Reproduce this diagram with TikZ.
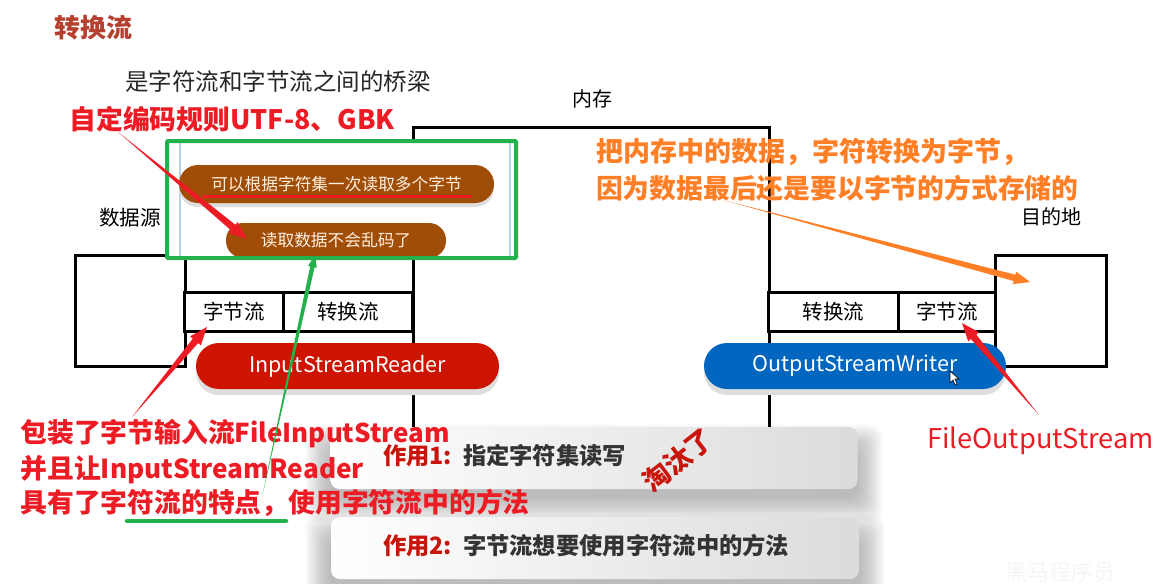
\documentclass[tikz,border=0pt]{standalone}
\usepackage{fontspec}
\setmainfont[Script=CJK,Language=Chinese Simplified]{Noto Sans CJK SC}
\usetikzlibrary{calc,shadows}
\definecolor{frameGreen}{HTML}{22B14C}
\definecolor{noteRed}{HTML}{ED1C24}
\definecolor{noteOrange}{HTML}{FF7F27}
\definecolor{pillBrown}{HTML}{A04D08}
\definecolor{pillRed}{HTML}{CC1400}
\definecolor{pillBlue}{HTML}{0066BF}
\definecolor{cardRed}{HTML}{C8160C}
\definecolor{titleRed}{HTML}{B5402F}
\definecolor{paleBlue}{HTML}{B5D0F2}
\newcommand{\fs}[1]      {\fontsize{#1}{#1}\selectfont}
\newcommand{\taperarrow}[5]{%
  \coordinate (hb) at ($(#3)!#4!(#2)$);
  \fill[#1] (#2) -- ($(hb)!#5*0.5!90:(#3)$) -- ($(hb)!#5!90:(#3)$) -- (#3)
    -- ($(hb)!#5!-90:(#3)$) -- ($(hb)!#5*0.5!-90:(#3)$) -- cycle;}
\tikzset{
  txt/.style={inner sep=0pt,outer sep=0pt},
  boxline/.style={draw=black,line width=3pt,inner sep=0pt,outer sep=0pt},
  cell/.style={boxline,minimum height=39pt,font=\fs{20.5}},
  pill/.style={inner sep=0pt,outer sep=0pt,minimum height=46pt,rounded corners=23pt,text=white},
  shadowed/.style={drop shadow={shadow xshift=0pt,shadow yshift=-#1,fill=black!13,opacity=1}},
  bigpill/.style={pill,shadowed=6pt,font=\fs{21.5}},
  brownpill/.style={pill,fill=pillBrown,text=orange!12,font=\fs{16.7}},
  card/.style={inner sep=0pt,outer sep=0pt,minimum width=527pt,minimum height=62pt,rounded corners=9pt,
    left color=white,right color=black!14},
  cardtxt/.style={txt,anchor=west,font=\bfseries\fs{23.3},text=black!80},
  rednote/.style={txt,anchor=west,font=\bfseries\fs{26.8},text=noteRed}
}
\begin{document}
\begin{tikzpicture}[x=1pt,y=-1pt]
   \useasboundingbox (0,0) rectangle (1163,584);
   \node[txt,font=\bfseries\fs{26},text=titleRed] (title) at (93,28) {转换流};
   \node[txt,font=\fs{23.5},text=black!85] (bridge) at (278,82) {是字符流和字节流之间的桥梁};
   \node[txt,font=\fs{20}] (memlabel) at (592,99) {内存};
   \node[txt,font=\fs{20.6}] (srclabel) at (130,218) {数据源};
   \node[txt,font=\fs{20}] (dstlabel) at (1051,217) {目的地};
   % memory and the two outer boxes
   \node[boxline,minimum width=356pt,minimum height=323pt] (memory) at (591,288.5) {};
   \node[boxline,minimum width=110pt,minimum height=111pt] (source) at (130,310.5) {};
   \node[boxline,minimum width=111pt,minimum height=111pt] (target) at (1051,310.5) {};
   \node[cell,fill=white,minimum width=99pt] (inbyte) at (234,311.5) {字节流};
   \node[cell,fill=white,minimum width=129pt] (inconv) at (348,311.5) {转换流};
   \node[cell,fill=white,minimum width=131pt] (outconv) at (833.5,311.5) {转换流};
   \node[cell,fill=white,minimum width=97pt] (outbyte) at (947,311.5) {字节流};
   \node[bigpill,fill=pillRed,minimum width=303pt] (reader) at (347.5,366) {\raisebox{-2pt}{InputStreamReader}};
   \node[bigpill,fill=pillBlue,minimum width=302pt] (writer) at (855,366) {\raisebox{-2pt}{OutputStreamWriter}};
   % cursor
   \filldraw[draw=black,fill=white,line width=0.6pt] (950,371) -- (950,383) -- (953,380) -- (955,385)
     -- (957,384) -- (955,379) -- (959,379) -- cycle;
   % green frame with its two pills
   \node[draw=none,fill=white,minimum width=349pt,minimum height=117pt,inner sep=0pt] (panel) at (341.5,199.5) {};
   \draw[paleBlue,line width=1.5pt] (180,143) -- (180,256);
   \draw[paleBlue,line width=1.5pt] (510,143) -- (510,256);
   \node[brownpill,shadowed=4pt,minimum width=315pt,minimum height=38pt,rounded corners=19pt] (multi) at (336.5,184) {\raisebox{1pt}{可以根据字符集一次读取多个字节}};
   \node[brownpill,minimum width=220pt,minimum height=35pt,rounded corners=17pt] (nogarble) at (336,240.5) {读取数据不会乱码了};
   \draw[noteRed,line width=3pt] (203,196) -- (472,196);
   \node[draw=frameGreen,line width=4pt,rounded corners=1pt,minimum width=349pt,minimum height=117pt,inner sep=0pt] (frame) at (341.5,199.5) {};
   % cards
   \foreach \s in {1,...,26} {
     \fill[black,opacity=0.012,rounded corners=12pt] (331-\s,450-\s) rectangle (857+\s,497+\s);
     \fill[black,opacity=0.012,rounded corners=12pt] (331-\s,540-\s) rectangle (859+\s,587+\s);
   }
   \node[card] (cardone) at (594,458) {};
   \node[card,minimum width=528pt] (cardtwo) at (595,548) {};
   \node[cardtxt,text=cardRed] (useone) at (383,456) {作用1:};
   \node[cardtxt] (useonetxt) at (463,456) {指定字符集读写};
   \node[cardtxt,text=cardRed] (usetwo) at (383,546) {作用2:};
   \node[cardtxt] (usetwotxt) at (463,546) {字节流想要使用字符流中的方法};
   \node[txt,font=\bfseries\fs{27},text=cardRed,rotate=38] (obsolete) at (678,460) {淘汰了};
   % notes
   \node[rednote] (encoding) at (69.5,119) {自定编码规则UTF-8、GBK};
   \node[rednote] (wrapone) at (20.5,434) {包装了字节输入流{\fs{25.9}FileInputStream}};
   \node[rednote] (wraptwo) at (20.5,470) {并且让{\fs{26.2}InputStreamReader}};
   \node[rednote] (wrapthree) at (20.5,503) {具有了字符流的特点，使用字符流中的方法};
   \node[rednote,font=\bfseries\fs{27},text=noteOrange] (orangeone) at (596,152) {把内存中的数据，字符转换为字节，};
   \node[rednote,font=\bfseries\fs{26.8},text=noteOrange] (orangetwo) at (596,188) {因为数据最后还是要以字节的方式存储的};
   \node[txt,font=\fs{27.2},text=noteRed] (fileout) at (1040.5,441) {FileOutputStream};
   \node[txt,font=\fs{22},text=black!4] (mark) at (1060,572) {黑马程序员};
   % arrows
   \coordinate (encodetail) at (118,132);
   \coordinate (encodehead) at (247,239);
   \coordinate (wraptail) at (132,417);
   \coordinate (wraphead) at (207,327);
   \coordinate (greentail) at (262,497);
   \coordinate (greenhead) at (315,255);
   \coordinate (orangetail) at (723,200);
   \coordinate (orangehead) at (1030,282);
   \coordinate (filetail) at (1039,415);
   \coordinate (filehead) at (962,323);
   \coordinate (lineleft) at (127,521);
   \coordinate (lineright) at (286,521);
   \taperarrow{noteRed}{encodetail}{encodehead}{18pt}{7pt}
   \taperarrow{noteRed}{wraptail}{wraphead}{18pt}{7pt}
   \taperarrow{frameGreen}{greentail}{greenhead}{12pt}{4.5pt}
   \taperarrow{noteOrange}{orangetail}{orangehead}{16pt}{6.5pt}
   \taperarrow{noteRed}{filetail}{filehead}{18pt}{7pt}
   \draw[frameGreen,line width=4.5pt,line cap=round] (lineleft) -- (lineright);
\end{tikzpicture}
\end{document}
